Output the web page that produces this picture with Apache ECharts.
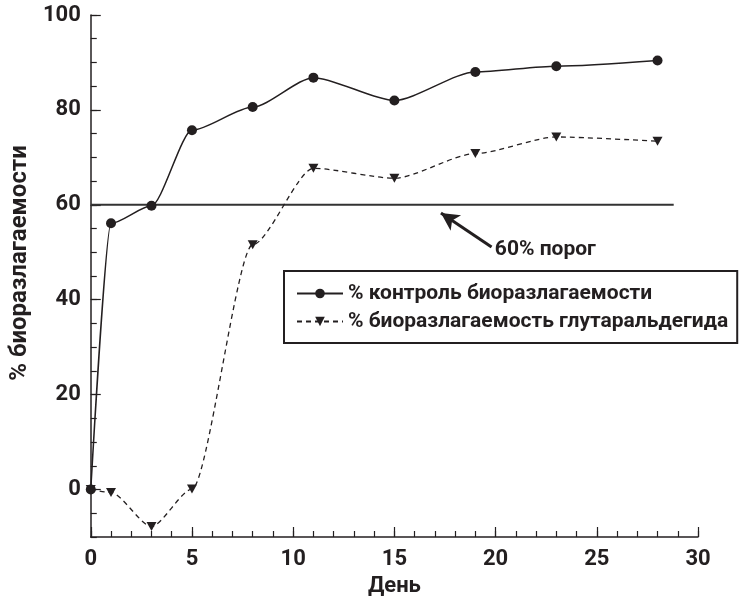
<!DOCTYPE html>
<html>
<head>
<meta charset="utf-8">
<script src="https://cdn.jsdelivr.net/npm/echarts@6/dist/echarts.min.js"></script>
<style>
  html, body { margin: 0; padding: 0; background: #fff; }
  #chart { width: 749px; height: 602px; }
</style>
</head>
<body>
<div id="chart"></div>
<script>
// days and values
var days = [0, 1, 3, 5, 8, 11, 15, 19, 23, 28];
var control = [0, 56.1, 59.8, 75.7, 80.6, 86.8, 82.0, 88.0, 89.2, 90.4];
var glutar = [0, -0.6, -7.8, 0.1, 51.6, 67.7, 65.6, 70.8, 74.3, 73.4];
var threshold = [[0, 60], [28.8, 60]];
var arrowFrom = [19.8, 51.1];
var arrowTo = [17.3, 58.3];
var yLabels = [0, 20, 40, 60, 80, 100];
var xLabels = [0, 5, 10, 15, 20, 25, 30];

var font = 'Roboto, "Liberation Sans", Arial, sans-serif';
var ink = '#231f20';

function pairs(xs, ys) {
  var out = [];
  for (var i = 0; i < xs.length; i++) out.push([xs[i], ys[i]]);
  return out;
}

var myChart = echarts.init(document.getElementById('chart'), null, { renderer: 'canvas' });

var option = {
  animation: false,
  backgroundColor: '#fff',
  grid: { left: 90, right: 51, top: 15, bottom: 55, containLabel: false },
  legend: {
    orient: 'vertical',
    left: 284,
    top: 271,
    padding: [12, 9, 11, 12],
    itemGap: 7,
    itemWidth: 46,
    itemHeight: 12,
    borderColor: ink,
    borderWidth: 2,
    borderRadius: 0,
    data: ['% контроль биоразлагаемости', '% биоразлагаемость глутаральдегида'],
    textStyle: { fontFamily: font, fontWeight: 'bold', fontSize: 21, color: ink }
  },
  xAxis: [
    {
      type: 'value', min: 0, max: 30, interval: 1, position: 'bottom',
      name: 'День', nameLocation: 'middle', nameGap: 38,
      nameTextStyle: { fontFamily: font, fontWeight: 'bold', fontSize: 22, color: ink },
      axisLine: { show: true, onZero: false, lineStyle: { color: ink, width: 1.5 } },
      axisTick: { show: true, inside: true, length: 6, lineStyle: { color: ink, width: 1.2 } },
      axisLabel: {
        show: true, margin: 11, fontFamily: font, fontWeight: 'bold', fontSize: 22, color: ink,
        customValues: xLabels
      },
      splitLine: { show: false }
    },
    {
      type: 'value', min: 0, max: 30, position: 'bottom',
      axisLine: { show: false, onZero: false },
      axisTick: { show: true, inside: true, length: 10, customValues: xLabels, lineStyle: { color: ink, width: 1.2 } },
      axisLabel: { show: false },
      splitLine: { show: false }
    }
  ],
  yAxis: [
    {
      type: 'value', min: -10, max: 100, interval: 5, position: 'left',
      name: '% биоразлагаемости', nameLocation: 'middle', nameGap: 53, nameRotate: 90,
      nameTextStyle: { fontFamily: font, fontWeight: 'bold', fontSize: 24, color: ink, padding: [0, 0, 0, 26] },
      axisLine: { show: true, onZero: false, lineStyle: { color: ink, width: 1.5 } },
      axisTick: { show: true, inside: true, length: 6, lineStyle: { color: ink, width: 1.2 } },
      axisLabel: {
        show: true, margin: 10, fontFamily: font, fontWeight: 'bold', fontSize: 22, color: ink,
        customValues: yLabels
      },
      splitLine: { show: false }
    },
    {
      type: 'value', min: -10, max: 100, position: 'left',
      axisLine: { show: false, onZero: false },
      axisTick: { show: true, inside: true, length: 10, customValues: yLabels, lineStyle: { color: ink, width: 1.2 } },
      axisLabel: { show: false },
      splitLine: { show: false }
    }
  ],
  series: [
    {
      name: 'threshold',
      type: 'line',
      data: threshold,
      symbol: 'none',
      silent: true,
      lineStyle: { color: '#333', width: 2 },
      z: 1,
      markLine: {
        silent: true,
        symbol: ['none', 'arrow'],
        symbolSize: [14, 18],
        lineStyle: { color: ink, width: 3, type: 'solid' },
        label: {
          show: true, position: 'start', distance: 4, formatter: '60% порог',
          fontFamily: font, fontWeight: 'bold', fontSize: 21, color: ink
        },
        data: [[{ coord: arrowFrom }, { coord: arrowTo }]]
      }
    },
    {
      name: '% контроль биоразлагаемости',
      type: 'line',
      data: pairs(days, control),
      smooth: 0.25,
      smoothMonotone: 'x',
      symbol: 'circle',
      symbolSize: 10,
      itemStyle: { color: ink },
      lineStyle: { color: ink, width: 1.5 },
      z: 3
    },
    {
      name: '% биоразлагаемость глутаральдегида',
      type: 'line',
      data: pairs(days, glutar),
      smooth: 0.25,
      smoothMonotone: 'x',
      symbol: 'triangle',
      symbolRotate: 180,
      symbolSize: [10, 9],
      itemStyle: { color: ink },
      lineStyle: { color: ink, width: 1.3, type: [5, 4] },
      z: 3
    }
  ]
};

myChart.setOption(option);
</script>
</body>
</html>
